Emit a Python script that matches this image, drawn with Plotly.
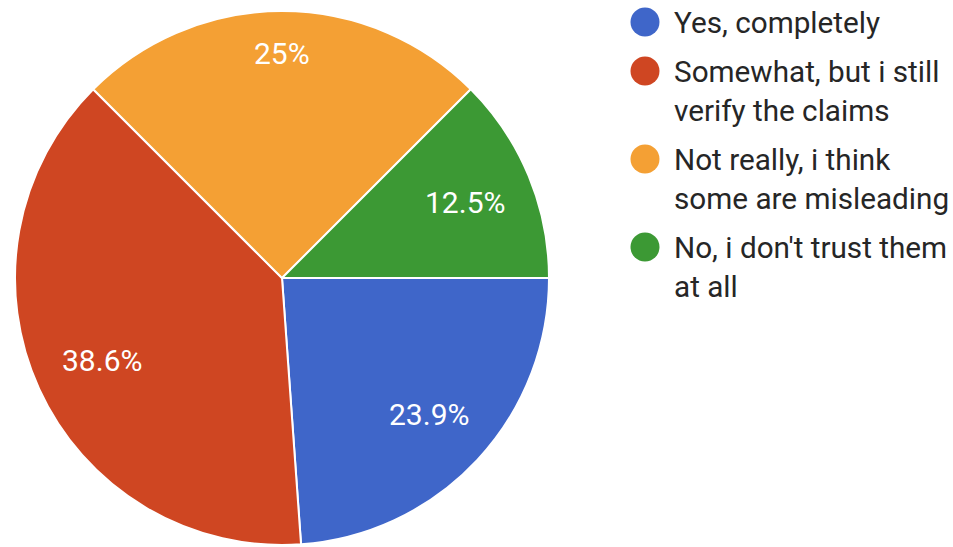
import math
import plotly.graph_objects as go

# Survey answers and response counts
categories = [
    "Yes, completely",
    "Somewhat, but i still<br>verify the claims",
    "Not really, i think<br>some are misleading",
    "No, i don't trust them<br>at all",
]
counts = [21, 34, 22, 11]
colors = ["#3f66c9", "#cf4622", "#f4a034", "#3c9934"]

# Canvas and pie geometry (pixels)
W, H = 953, 547
CX, CY, R = 282, 278, 267
LABEL_FONT = 30
LEGEND_FONT = 29.7
FONT = "Roboto, Arial, sans-serif"

total = sum(counts)

fig = go.Figure()

fig.add_trace(go.Pie(
    values=counts,
    labels=[c.replace("<br>", " ") for c in categories],
    marker=dict(colors=colors, line=dict(color="white", width=2)),
    sort=False,
    direction="clockwise",
    rotation=90,
    textinfo="none",
    showlegend=False,
    hoverinfo="label+percent",
    domain=dict(x=[(CX - R) / W, (CX + R) / W],
                y=[1 - (CY + R) / H, 1 - (CY - R) / H]),
))

# Percentage labels: placed along each slice bisector so the outer corner
# of the text box sits at 90% of the radius.
CHAR_W = {".": 0.263, "%": 0.732}
annotations = []
cum = 0
for v in counts:
    pct = v / total * 100
    txt = f"{pct:.1f}".rstrip("0").rstrip(".") + "%"
    theta = math.radians(360 * (cum + v / 2) / total)
    cum += v
    a, b = abs(math.cos(theta)), abs(math.sin(theta))
    p = sum(CHAR_W.get(ch, 0.562) for ch in txt) * LABEL_FONT / 2
    q = 14
    T = 0.9 * R
    k = a * p + b * q
    d = -k + math.sqrt(k * k - (p * p + q * q - T * T))
    annotations.append(dict(
        x=CX + d * math.cos(theta), y=CY + d * math.sin(theta),
        xref="x", yref="y", text=txt, showarrow=False,
        xanchor="center", yanchor="middle",
        font=dict(family=FONT, size=LABEL_FONT, color="white"),
    ))

# Legend: circle swatches with wrapped labels
LEG_X, LEG_Y0 = 645, 22
TEXT_X = 672
LINE_H, ITEM_GAP = 39, 49
mx, my = [], []
y = LEG_Y0
for cat in categories:
    lines = cat.split("<br>")
    mx.append(LEG_X)
    my.append(y)
    for i, line in enumerate(lines):
        annotations.append(dict(
            x=TEXT_X, y=y + i * LINE_H, xref="x", yref="y",
            text=line, showarrow=False, xanchor="left", yanchor="middle",
            font=dict(family=FONT, size=LEGEND_FONT, color="#262626"),
        ))
    y += ITEM_GAP + (len(lines) - 1) * LINE_H

fig.add_trace(go.Scatter(
    x=mx, y=my, mode="markers",
    marker=dict(size=29, color=colors, line=dict(width=0)),
    showlegend=False, hoverinfo="skip",
))

fig.update_layout(
    width=W, height=H,
    margin=dict(l=0, r=0, t=0, b=0),
    paper_bgcolor="white", plot_bgcolor="rgba(0,0,0,0)",
    xaxis=dict(range=[0, W], visible=False, fixedrange=True),
    yaxis=dict(range=[H, 0], visible=False, fixedrange=True),
    annotations=annotations,
    showlegend=False,
)

fig.write_html("out.html")
